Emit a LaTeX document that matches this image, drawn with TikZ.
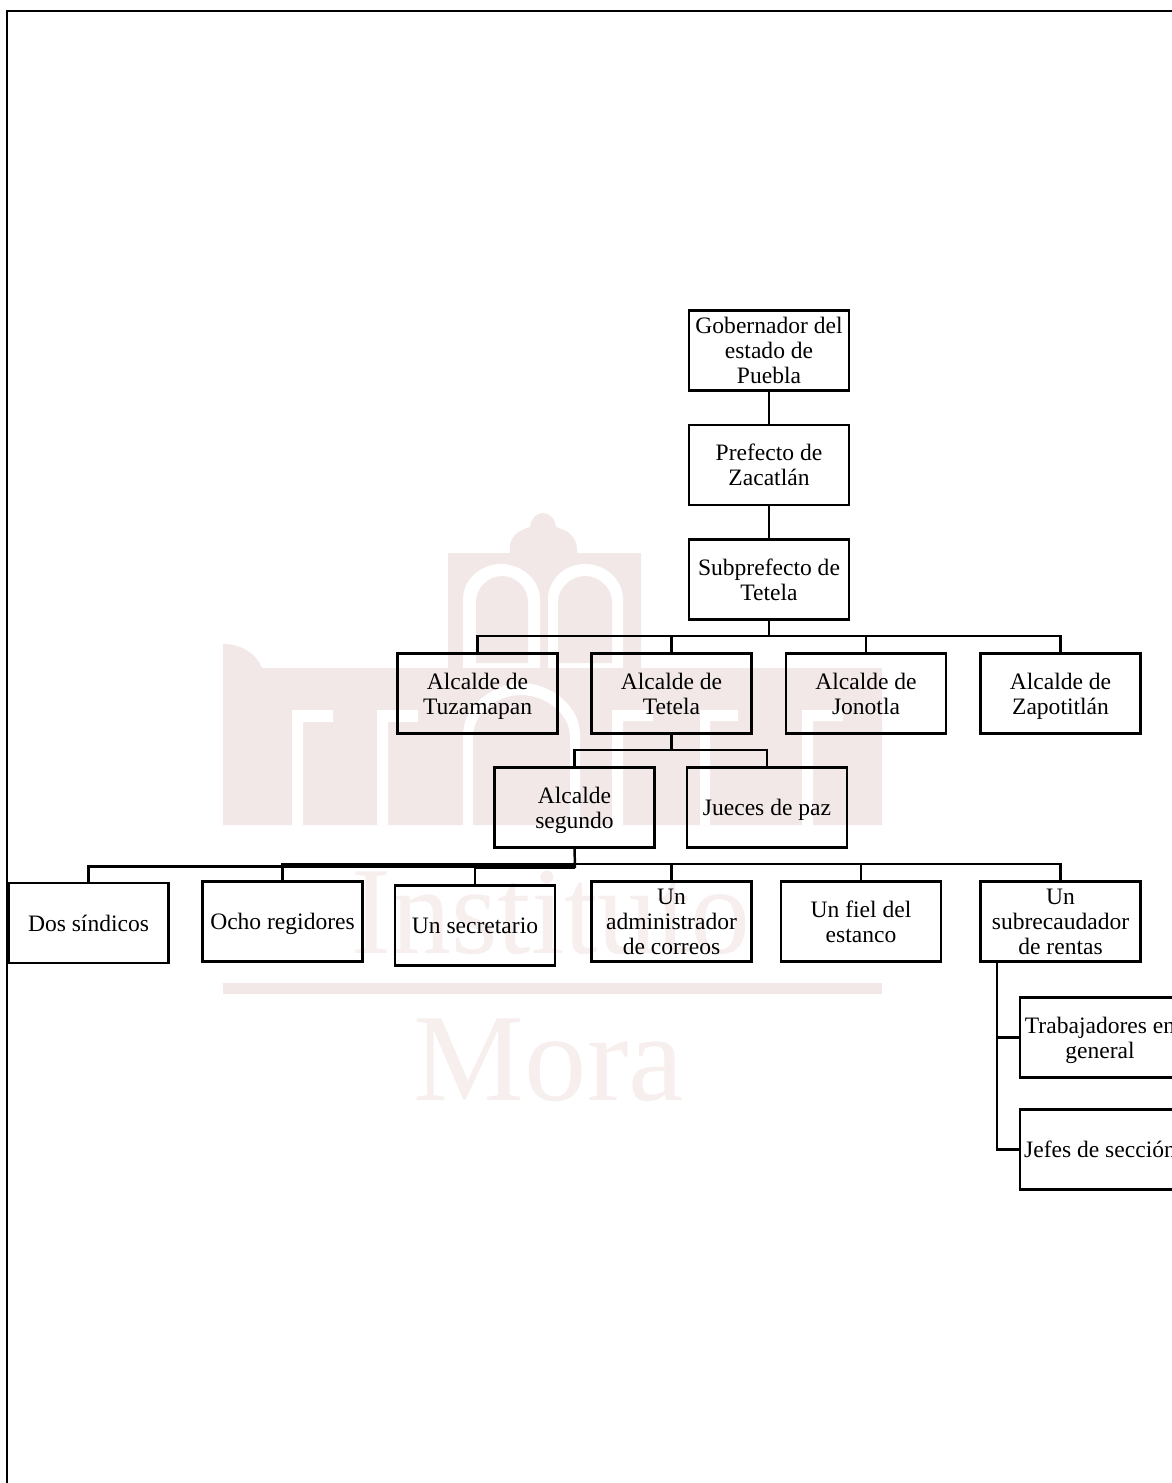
\documentclass[tikz,border=0pt]{standalone}
\usepackage{fontspec}
\setmainfont{Liberation Serif}
\definecolor{wmpink}{HTML}{F3E8E8}
\definecolor{wmtext}{HTML}{F7EEEE}
\tikzset{
  box/.style={draw,line width=1.4pt,rectangle,align=center,outer sep=0pt,
    minimum width=3.2cm,minimum height=1.6cm,inner sep=0pt,
    font=\fontsize{13.4}{14.3}\selectfont},
  lowbox/.style={box,text depth=-1pt},
  midbox/.style={box,text depth=0.6pt},
  link/.style={line width=1.4pt},
  wmword/.style={anchor=base,text=wmtext,inner sep=0pt,font=\fontsize{71}{71}\selectfont}
}

\begin{document}
\begin{tikzpicture}[x=0.02cm,y=-0.02cm]
\useasboundingbox (0,0) rectangle (1172,1483);
\clip (0,0) rectangle (1172,1483);

\fill[wmpink] (448,668) -- (448,553) -- (510,553) .. controls (508,535) and (520,530) .. (530,527)
  .. controls (531,518) and (537,513) .. (543,513) .. controls (549,513) and (555,518) .. (556,527)
  .. controls (566,530) and (578,535) .. (577,553) -- (641,553) -- (641,668) -- cycle;
\fill[white] (463,668) -- (463,600) .. controls (463,578) and (482,564) .. (501,564)
  .. controls (520,564) and (540,578) .. (540,600) -- (540,668) -- cycle;
\fill[white] (548,668) -- (548,600) .. controls (548,578) and (566,564) .. (585,564)
  .. controls (604,564) and (623,578) .. (623,600) -- (623,668) -- cycle;
\fill[wmpink] (476,663) -- (476,602) .. controls (476,587) and (489,576) .. (502,576)
  .. controls (515,576) and (528,587) .. (528,602) -- (528,663) -- cycle;
\fill[wmpink] (558,663) -- (558,602) .. controls (558,587) and (572,576) .. (585,576)
  .. controls (598,576) and (612,587) .. (612,602) -- (612,663) -- cycle;
\fill[wmpink] (223,825) -- (223,644) .. controls (243,644) and (257,655) .. (262,668)
  -- (882,668) -- (882,825) -- cycle;
\fill[white] (463,825) -- (463,735) .. controls (463,705) and (495,683) .. (521,683)
  .. controls (550,683) and (580,705) .. (580,735) -- (580,825) -- (570,825) -- (570,737)
  .. controls (570,713) and (545,695) .. (521,695) .. controls (497,695) and (473,713) .. (473,737)
  -- (473,825) -- cycle;
\fill[white] (292,825) -- (292,710) -- (333,710) -- (333,722) -- (303,722) -- (303,825) -- cycle;
\fill[white] (377,825) -- (377,710) -- (418,710) -- (418,722) -- (388,722) -- (388,825) -- cycle;
\fill[white] (612,825) -- (612,710) -- (653,710) -- (653,721) -- (623,721) -- (623,825) -- cycle;
\fill[white] (700,825) -- (700,710) -- (738,710) -- (738,721) -- (710,721) -- (710,825) -- cycle;
\fill[white] (802,825) -- (802,710) -- (843,710) -- (843,721) -- (813,721) -- (813,825) -- cycle;
\fill[wmpink] (223,983) rectangle (882,994);
\node[wmword,xscale=0.96] (instituto) at (551,953) {Instituto};
\node[wmword] (mora) at (549,1100) {Mora};

\coordinate (framea) at (1180,11);
\coordinate (frameb) at (7,11);
\coordinate (framec) at (7,1490);
\draw[line width=1.3pt] (framea) -- (frameb) -- (framec);

\node[box] (gobernador) at (769,350.5) {Gobernador del\\estado de\\Puebla};
\node[box] (prefecto) at (769,465) {Prefecto de\\Zacatlán};
\node[box] (subprefecto) at (769,579.5) {Subprefecto de\\Tetela};

\node[lowbox] (tuzamapan) at (477.5,693.5) {Alcalde de\\Tuzamapan};
\node[lowbox] (tetela) at (671.5,693.5) {Alcalde de\\Tetela};
\node[lowbox] (jonotla) at (866,693.5) {Alcalde de\\Jonotla};
\node[lowbox] (zapotitlan) at (1060.5,693.5) {Alcalde de\\Zapotitlán};

\node[lowbox] (segundo) at (574.5,807.5) {Alcalde\\segundo};
\node[midbox] (jueces) at (767,807.5) {Jueces de paz};

\node[box] (sindicos) at (88.5,923) {Dos síndicos};
\node[midbox] (regidores) at (282.5,921.5) {Ocho regidores};
\node[lowbox] (secretario) at (475,925.5) {Un secretario};
\node[lowbox] (correos) at (671.5,921.5) {Un\\administrador\\de correos};
\node[lowbox] (estanco) at (861,921.5) {Un fiel del\\estanco};
\node[lowbox] (rentas) at (1060.5,921.5) {Un\\subrecaudador\\de rentas};

\node[lowbox] (trabajadores) at (1100,1037.5) {Trabajadores en\\general};
\node[lowbox] (jefes) at (1100,1149.5) {Jefes de sección};

\coordinate (busalcaldes) at (769,636);
\coordinate (bustetela) at (671.5,750);
\coordinate (busderecho) at (575,864);
\coordinate (busizquierdo) at (575,866.5);
\coordinate (bussecretario) at (575,868);
\coordinate (bajada) at (997,962);

\draw[link] (gobernador) -- (prefecto);
\draw[link] (prefecto) -- (subprefecto);
\draw[link] (subprefecto.south) -- (busalcaldes);
\draw[link] (tuzamapan.north) |- (busalcaldes);
\draw[link] (tetela.north) |- (busalcaldes);
\draw[link] (jonotla.north) |- (busalcaldes);
\draw[link] (zapotitlan.north) |- (busalcaldes);

\draw[link] (tetela.south) -- (bustetela);
\draw[link] (segundo.north) |- (bustetela);
\draw[link] (jueces.north) |- (bustetela);

\draw[link] (segundo.south) -- (bussecretario);
\draw[link] (sindicos.north) |- (busizquierdo);
\draw[link] (regidores.north) |- (busderecho);
\draw[link] (secretario.north) |- (bussecretario);
\draw[link] (correos.north) |- (busderecho);
\draw[link] (estanco.north) |- (busderecho);
\draw[link] (rentas.north) |- (busderecho);

\draw[link] (bajada) |- (trabajadores.west);
\draw[link] (bajada) |- (jefes.west);
\end{tikzpicture}
\end{document}
